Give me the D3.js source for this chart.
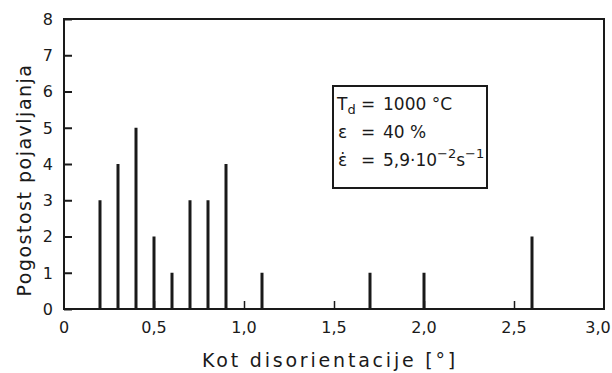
<!DOCTYPE html>
<html><head><meta charset="utf-8">
<script src="https://cdn.jsdelivr.net/npm/d3@7"></script>
<style>body{margin:0;background:#fff}svg{display:block}text{font-family:"DejaVu Sans",sans-serif;fill:#1a1a1a;white-space:pre}</style>
</head><body><svg id="c" width="612" height="373"></svg>
<script>
const angles = [0.2,0.3,0.4,0.5,0.6,0.7,0.8,0.9,1.1,1.7,2.0,2.6];
const counts = [3,4,5,2,1,3,3,4,1,1,1,2];
const xTicks = [0,0.5,1.0,1.5,2.0,2.5,3.0];
const xTickLabels = ["0","0,5","1,0","1,5","2,0","2,5","3,0"];
const yTicks = [0,1,2,3,4,5,6,7,8];

const svg = d3.select("#c");
const x = d3.scaleLinear().domain([0,3]).range([64,604]);
const y = d3.scaleLinear().domain([0,8]).range([309,19]);
const ink = "#1a1a1a";

// frame
svg.append("rect").attr("x",x(0)).attr("y",y(8)).attr("width",x(3)-x(0)).attr("height",y(0)-y(8))
  .attr("fill","none").attr("stroke",ink).attr("stroke-width",2);

// y axis ticks (inward)
const yAx = svg.append("g").attr("transform",`translate(${x(0)},0)`)
  .call(d3.axisRight(y).tickValues(yTicks).tickSize(8).tickFormat(""));
yAx.select(".domain").remove();
yAx.selectAll("line").attr("stroke",ink).attr("stroke-width",2);
svg.append("g").selectAll("text").data(yTicks).join("text")
  .attr("x",x(0)-11).attr("y",d=>y(d)).attr("dy","0.36em").attr("text-anchor","end")
  .attr("font-size",16).text(d=>d);

// x axis ticks (inward)
const xAx = svg.append("g").attr("transform",`translate(0,${y(0)})`)
  .call(d3.axisTop(x).tickValues(xTicks.slice(1,-1)).tickSize(8).tickFormat(""));
xAx.select(".domain").remove();
xAx.selectAll("line").attr("stroke",ink).attr("stroke-width",1.5);
svg.append("g").selectAll("text").data(xTicks).join("text")
  .attr("x",(d,i)=>x(d)-(i===xTicks.length-1?6:0)).attr("y",y(0)+24).attr("text-anchor","middle")
  .attr("font-size",16).text((d,i)=>xTickLabels[i]);

// bars
svg.append("g").selectAll("rect").data(angles).join("rect")
  .attr("x",d=>x(d)-1.5).attr("width",3)
  .attr("y",(d,i)=>y(counts[i])).attr("height",(d,i)=>y(0)-y(counts[i]))
  .attr("fill",ink);

// axis labels
svg.append("text").attr("transform",`translate(31,${(y(0)+y(8))/2+16}) rotate(-90)`)
  .attr("text-anchor","middle").attr("font-size",19).attr("letter-spacing",1.5).text("Pogostost pojavljanja");
svg.append("text").attr("x",330).attr("y",367).attr("text-anchor","middle")
  .attr("font-size",19).attr("letter-spacing",2.8).text("Kot disorientacije [°]");

// legend box
const lg = svg.append("g");
lg.append("rect").attr("x",333).attr("y",86).attr("width",154).attr("height",102)
  .attr("fill","#fff").attr("stroke",ink).attr("stroke-width",2);
const fs = 17, eqX = 361, valX = 383, sub = 13;
const ys = [110,138,166];
// line 1
let t1 = lg.append("text").attr("x",337).attr("y",ys[0]).attr("font-size",fs);
t1.append("tspan").text("T");
t1.append("tspan").attr("font-size",sub).attr("dy",4).text("d");
lg.append("text").attr("x",338).attr("y",ys[1]).attr("font-size",fs).text("ε");
lg.append("text").attr("x",338).attr("y",ys[2]).attr("font-size",fs).text("ε̇");
ys.forEach(yy=>lg.append("text").attr("x",eqX).attr("y",yy).attr("font-size",fs).text("="));
lg.append("text").attr("x",valX).attr("y",ys[0]).attr("font-size",fs).text("1000 °C");
lg.append("text").attr("x",valX).attr("y",ys[1]).attr("font-size",fs).text("40 %");
let t3 = lg.append("text").attr("x",valX).attr("y",ys[2]).attr("font-size",fs);
t3.append("tspan").text("5,9·10");
t3.append("tspan").attr("font-size",sub).attr("dy",-8).text("−2");
t3.append("tspan").attr("dy",8).text("s");
t3.append("tspan").attr("font-size",sub).attr("dy",-8).text("−1");
</script></body></html>
